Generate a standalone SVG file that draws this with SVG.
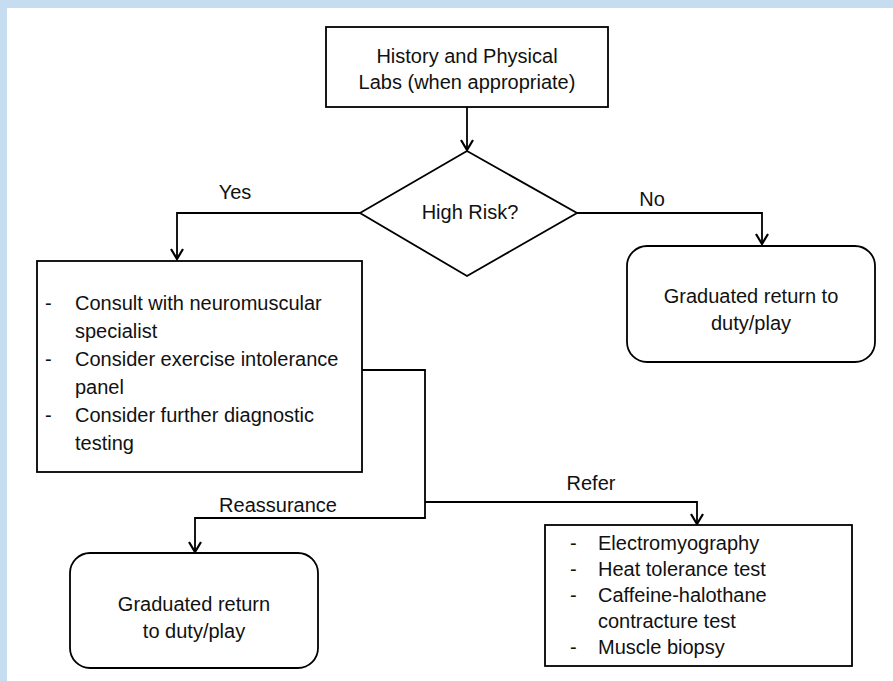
<svg xmlns="http://www.w3.org/2000/svg" width="893" height="681" viewBox="0 0 893 681">
<defs>
<marker id="arr" viewBox="0 0 18 18" refX="16" refY="9" markerWidth="18" markerHeight="18" markerUnits="userSpaceOnUse" orient="auto">
<path d="M6,3 L16,9 L6,15" fill="none" stroke="#000" stroke-width="2.2"/>
</marker>
<style>
.box{fill:#fff;stroke:#000;stroke-width:1.8}
.ln{fill:none;stroke:#000;stroke-width:1.8}
text{font-family:"Liberation Sans",Arial,sans-serif;font-size:20px;fill:#111}
.c{text-anchor:middle}
</style>
</defs>
<rect x="0" y="0" width="893" height="681" fill="#fff"/>
<rect x="0" y="0" width="893" height="8" fill="#C6DCF0"/>
<rect x="0" y="0" width="7" height="681" fill="#C6DCF0"/>
<g id="connectors">
<path class="ln" d="M467,107 V150" marker-end="url(#arr)"/>
<path class="ln" d="M360,213 H177 V259" marker-end="url(#arr)"/>
<path class="ln" d="M577,213 H762 V244" marker-end="url(#arr)"/>
<path class="ln" d="M362,370 H425 V518 H195 V552" marker-end="url(#arr)"/>
<path class="ln" d="M425,502 H697 V524" marker-end="url(#arr)"/>
<text x="235" y="199" class="c">Yes</text>
<text x="652" y="206" class="c">No</text>
<text x="278" y="512" class="c">Reassurance</text>
<text x="591" y="490" class="c">Refer</text>
</g>
<g id="start">
<rect class="box" x="326" y="27" width="282" height="80"/>
<text x="467" y="63" class="c">History and Physical</text>
<text x="467" y="89" class="c">Labs (when appropriate)</text>
</g>
<g id="decision">
<polygon class="box" points="467,151 577,213 467,276 360,213"/>
<text x="470" y="219" class="c">High Risk?</text>
</g>
<g id="no-return">
<rect class="box" x="627" y="246" width="248" height="116" rx="20"/>
<text x="751" y="303" class="c">Graduated return to</text>
<text x="751" y="330" class="c">duty/play</text>
</g>
<g id="high-risk-actions">
<rect class="box" x="37" y="261" width="325" height="211"/>
<text x="45" y="310">-</text><text x="75" y="310">Consult with neuromuscular</text>
<text x="75" y="338">specialist</text>
<text x="45" y="366">-</text><text x="75" y="366">Consider exercise intolerance</text>
<text x="75" y="394">panel</text>
<text x="45" y="422">-</text><text x="75" y="422">Consider further diagnostic</text>
<text x="75" y="450">testing</text>
</g>
<g id="reassurance-return">
<rect class="box" x="70" y="553" width="248" height="115" rx="20"/>
<text x="194" y="611" class="c">Graduated return</text>
<text x="194" y="638" class="c">to duty/play</text>
</g>
<g id="refer-tests">
<rect class="box" x="545" y="525" width="307" height="141"/>
<text x="570" y="550">-</text><text x="598" y="550">Electromyography</text>
<text x="570" y="576">-</text><text x="598" y="576">Heat tolerance test</text>
<text x="570" y="602">-</text><text x="598" y="602">Caffeine-halothane</text>
<text x="598" y="628">contracture test</text>
<text x="570" y="654">-</text><text x="598" y="654">Muscle biopsy</text>
</g>
</svg>
